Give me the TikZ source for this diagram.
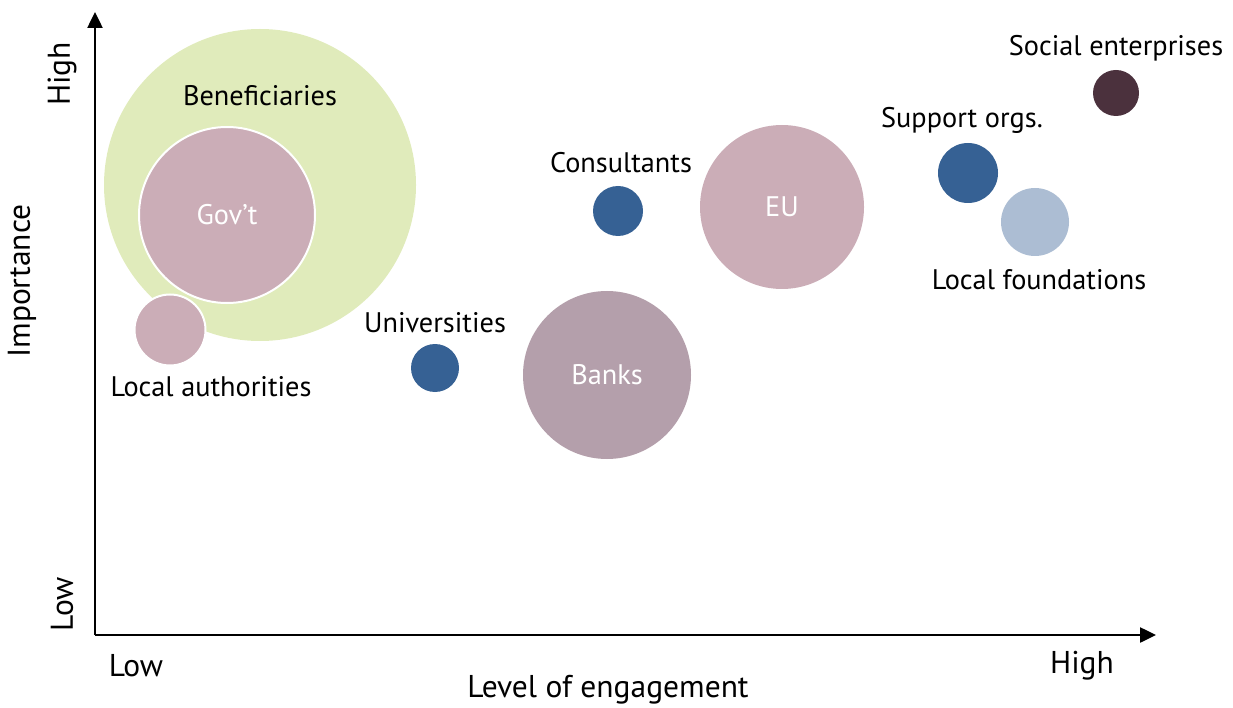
\documentclass[tikz,border=0pt]{standalone}
\usepackage{fontspec}
\setmainfont{PT Sans}
\usetikzlibrary{arrows.meta}
\definecolor{bengreen}{HTML}{E0EBBB}
\definecolor{pinkc}{HTML}{CBADB7}
\definecolor{bankc}{HTML}{B49FAB}
\definecolor{bluec}{HTML}{366194}
\definecolor{lightblue}{HTML}{ACBDD3}
\definecolor{darkc}{HTML}{4B313D}
\tikzset{
  bub/.style={circle, inner sep=0pt, draw=none},
  wbub/.style={circle, inner sep=0pt, draw=white, line width=2pt},
  lbl/.style={font=\fontsize{28.3}{31}\selectfont, inner sep=0pt, text=black},
  wlbl/.style={font=\fontsize{28.3}{31}\selectfont, inner sep=0pt, text=white},
  albl/.style={font=\fontsize{31.5}{34}\selectfont, inner sep=0pt, text=black},
  axis/.style={line width=2.5pt, -{Triangle[length=16pt,width=15pt]}}
}
\begin{document}
\begin{tikzpicture}[x=1pt,y=-1pt]
\useasboundingbox (0,0) rectangle (1233,708);
% bubbles
\node[bub, fill=bengreen, minimum size=312pt] (ben) at (260,185) {};
\node[wbub, fill=pinkc, minimum size=176pt] (gov) at (227,215) {};
\node[wbub, fill=pinkc, minimum size=71pt] (loc) at (170,330) {};
\node[bub, fill=bluec, minimum size=48pt] (uni) at (435,368) {};
\node[bub, fill=bankc, minimum size=168pt] (bank) at (607,375) {};
\node[bub, fill=bluec, minimum size=50pt] (cons) at (618,211) {};
\node[bub, fill=pinkc, minimum size=164pt] (eu) at (782,207) {};
\node[bub, fill=bluec, minimum size=60pt] (sup) at (968,173) {};
\node[bub, fill=lightblue, minimum size=68pt] (lf) at (1035,222) {};
\node[bub, fill=darkc, minimum size=46pt] (se) at (1116,93) {};
% labels
\node[lbl] (tben) at (260,96) {Beneficiaries};
\node[wlbl] (tgov) at (gov) {Gov’t};
\node[lbl] (tloc) at (211,387) {Local authorities};
\node[lbl] (tuni) at (435,323) {Universities};
\node[wlbl] (tbank) at (bank) {Banks};
\node[lbl] (tcons) at (621,163) {Consultants};
\node[wlbl] (teu) at (eu) {EU};
\node[lbl] (tsup) at (962,120) {Support orgs.};
\node[lbl] (tlf) at (1039,280) {Local foundations};
\node[lbl] (tse) at (1116,48) {Social enterprises};
% axes
\coordinate (o) at (95,635);
\coordinate (ytop) at (95,12);
\coordinate (xend) at (1156,635);
\draw[axis] (o) -- (ytop);
\draw[axis] (o) -- (xend);
\node[albl, rotate=90] (yhigh) at (62,74) {High};
\node[albl, rotate=90] (ylow) at (62,604) {Low};
\node[albl, rotate=90] (ytitle) at (22,281) {Importance};
\node[albl] (xlow) at (136,666) {Low};
\node[albl] (xhigh) at (1082,666) {High};
\node[albl] (xtitle) at (608,690) {Level of engagement};
\end{tikzpicture}
\end{document}
